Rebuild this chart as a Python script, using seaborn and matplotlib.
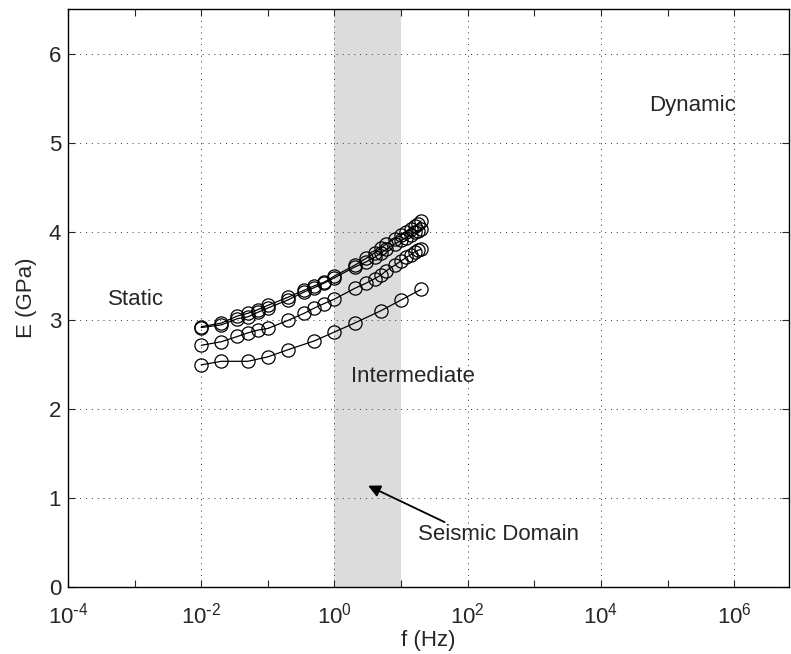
import numpy as np
import pandas as pd
import matplotlib
matplotlib.use("Agg")
import matplotlib.pyplot as plt
import matplotlib.ticker as mticker
import seaborn as sns

# frecuencias (Hz) y modulos E (GPa)
f_denso = [0.01, 0.02, 0.035, 0.05, 0.07, 0.1, 0.2, 0.35, 0.5, 0.7, 1,
           2, 3, 4, 5, 6, 8, 10, 12, 14, 16, 18, 20]
e_curva1 = [2.93, 2.97, 3.05, 3.08, 3.12, 3.17, 3.26, 3.34, 3.39, 3.43, 3.50,
            3.62, 3.70, 3.76, 3.82, 3.86, 3.92, 3.96, 4.00, 4.03, 4.06, 4.09, 4.12]
e_curva2 = [2.92, 2.95, 3.02, 3.04, 3.09, 3.14, 3.23, 3.32, 3.37, 3.42, 3.48,
            3.60, 3.66, 3.71, 3.76, 3.80, 3.86, 3.90, 3.93, 3.96, 3.99, 4.01, 4.03]
e_curva3 = [2.72, 2.76, 2.82, 2.86, 2.89, 2.91, 3.00, 3.08, 3.14, 3.19, 3.24,
            3.36, 3.42, 3.47, 3.51, 3.56, 3.62, 3.67, 3.71, 3.74, 3.77, 3.79, 3.80]
f_escaso = [0.01, 0.02, 0.05, 0.1, 0.2, 0.5, 1, 2, 5, 10, 20]
e_curva4 = [2.50, 2.54, 2.54, 2.59, 2.67, 2.77, 2.87, 2.97, 3.11, 3.23, 3.35]

xticks = [1e-4, 1e-2, 1e0, 1e2, 1e4, 1e6]
xticklabels = [r"$10^{\text{-}4}$", r"$10^{\text{-}2}$", r"$10^{0}$",
               r"$10^{2}$", r"$10^{4}$", r"$10^{6}$"]
yticks = [0, 1, 2, 3, 4, 5, 6]

filas = []
for nombre, fs, es in [("c1", f_denso, e_curva1), ("c2", f_denso, e_curva2),
                       ("c3", f_denso, e_curva3), ("c4", f_escaso, e_curva4)]:
    for f, e in zip(fs, es):
        filas.append({"curva": nombre, "f": f, "E": e})
df = pd.DataFrame(filas)

sns.set_style("ticks")
plt.rcParams["font.family"] = ["Liberation Sans", "DejaVu Sans"]
plt.rcParams["mathtext.default"] = "regular"
plt.rcParams["font.size"] = 16

fig = plt.figure(figsize=(7.91, 6.54), dpi=100)
ax = fig.add_axes([0.086, 0.1025, 0.912, 0.883])

ax.axvspan(1, 10, color="#dcdcdc", zorder=0.5, lw=0)

sns.lineplot(data=df, x="f", y="E", units="curva", estimator=None, ax=ax,
             color="black", lw=0.9, marker="o", markersize=9.5,
             markerfacecolor="none", markeredgecolor="black", markeredgewidth=0.9,
             legend=False, zorder=3)

ax.set_xscale("log")
ax.set_xlim(1e-4, 10 ** 6.83)
ax.set_ylim(0, 6.5)
ax.set_xticks(xticks)
ax.set_xticklabels(xticklabels)
ax.xaxis.set_minor_locator(mticker.FixedLocator([1e-3, 1e-1, 1e1, 1e3, 1e5]))
ax.xaxis.set_minor_formatter(mticker.NullFormatter())
ax.set_yticks(yticks)

ax.set_axisbelow("line")
ax.grid(True, which="major", color="#333333", linestyle=(0, (1, 5)), lw=0.7)
ax.tick_params(direction="in", top=True, right=True, length=5, width=0.8,
               labelsize=16, which="major")
ax.tick_params(axis="x", pad=11, which="major")
ax.tick_params(axis="y", pad=5, which="major")
ax.tick_params(direction="in", top=True, right=False, length=5, width=0.8,
               which="minor")
for s in ax.spines.values():
    s.set_color("black")
    s.set_linewidth(1)

ax.set_xlabel("f (Hz)", fontsize=16, labelpad=1)
ax.set_ylabel("E (GPa)", fontsize=16, labelpad=8)

ax.text(10 ** -3.4, 3.24, "Static", fontsize=16, va="center")
ax.text(1.8, 2.37, "Intermediate", fontsize=16, va="center")
ax.text(10 ** 4.73, 5.42, "Dynamic", fontsize=16, va="center")
ax.text(17.8, 0.59, "Seismic Domain", fontsize=16, va="center")
ax.annotate("", xy=(3.2, 1.14), xytext=(45, 0.73),
            arrowprops=dict(arrowstyle="-|>", color="black", lw=1.3,
                            mutation_scale=18, shrinkA=0, shrinkB=0))

plt.savefig("out.png", dpi=100)
